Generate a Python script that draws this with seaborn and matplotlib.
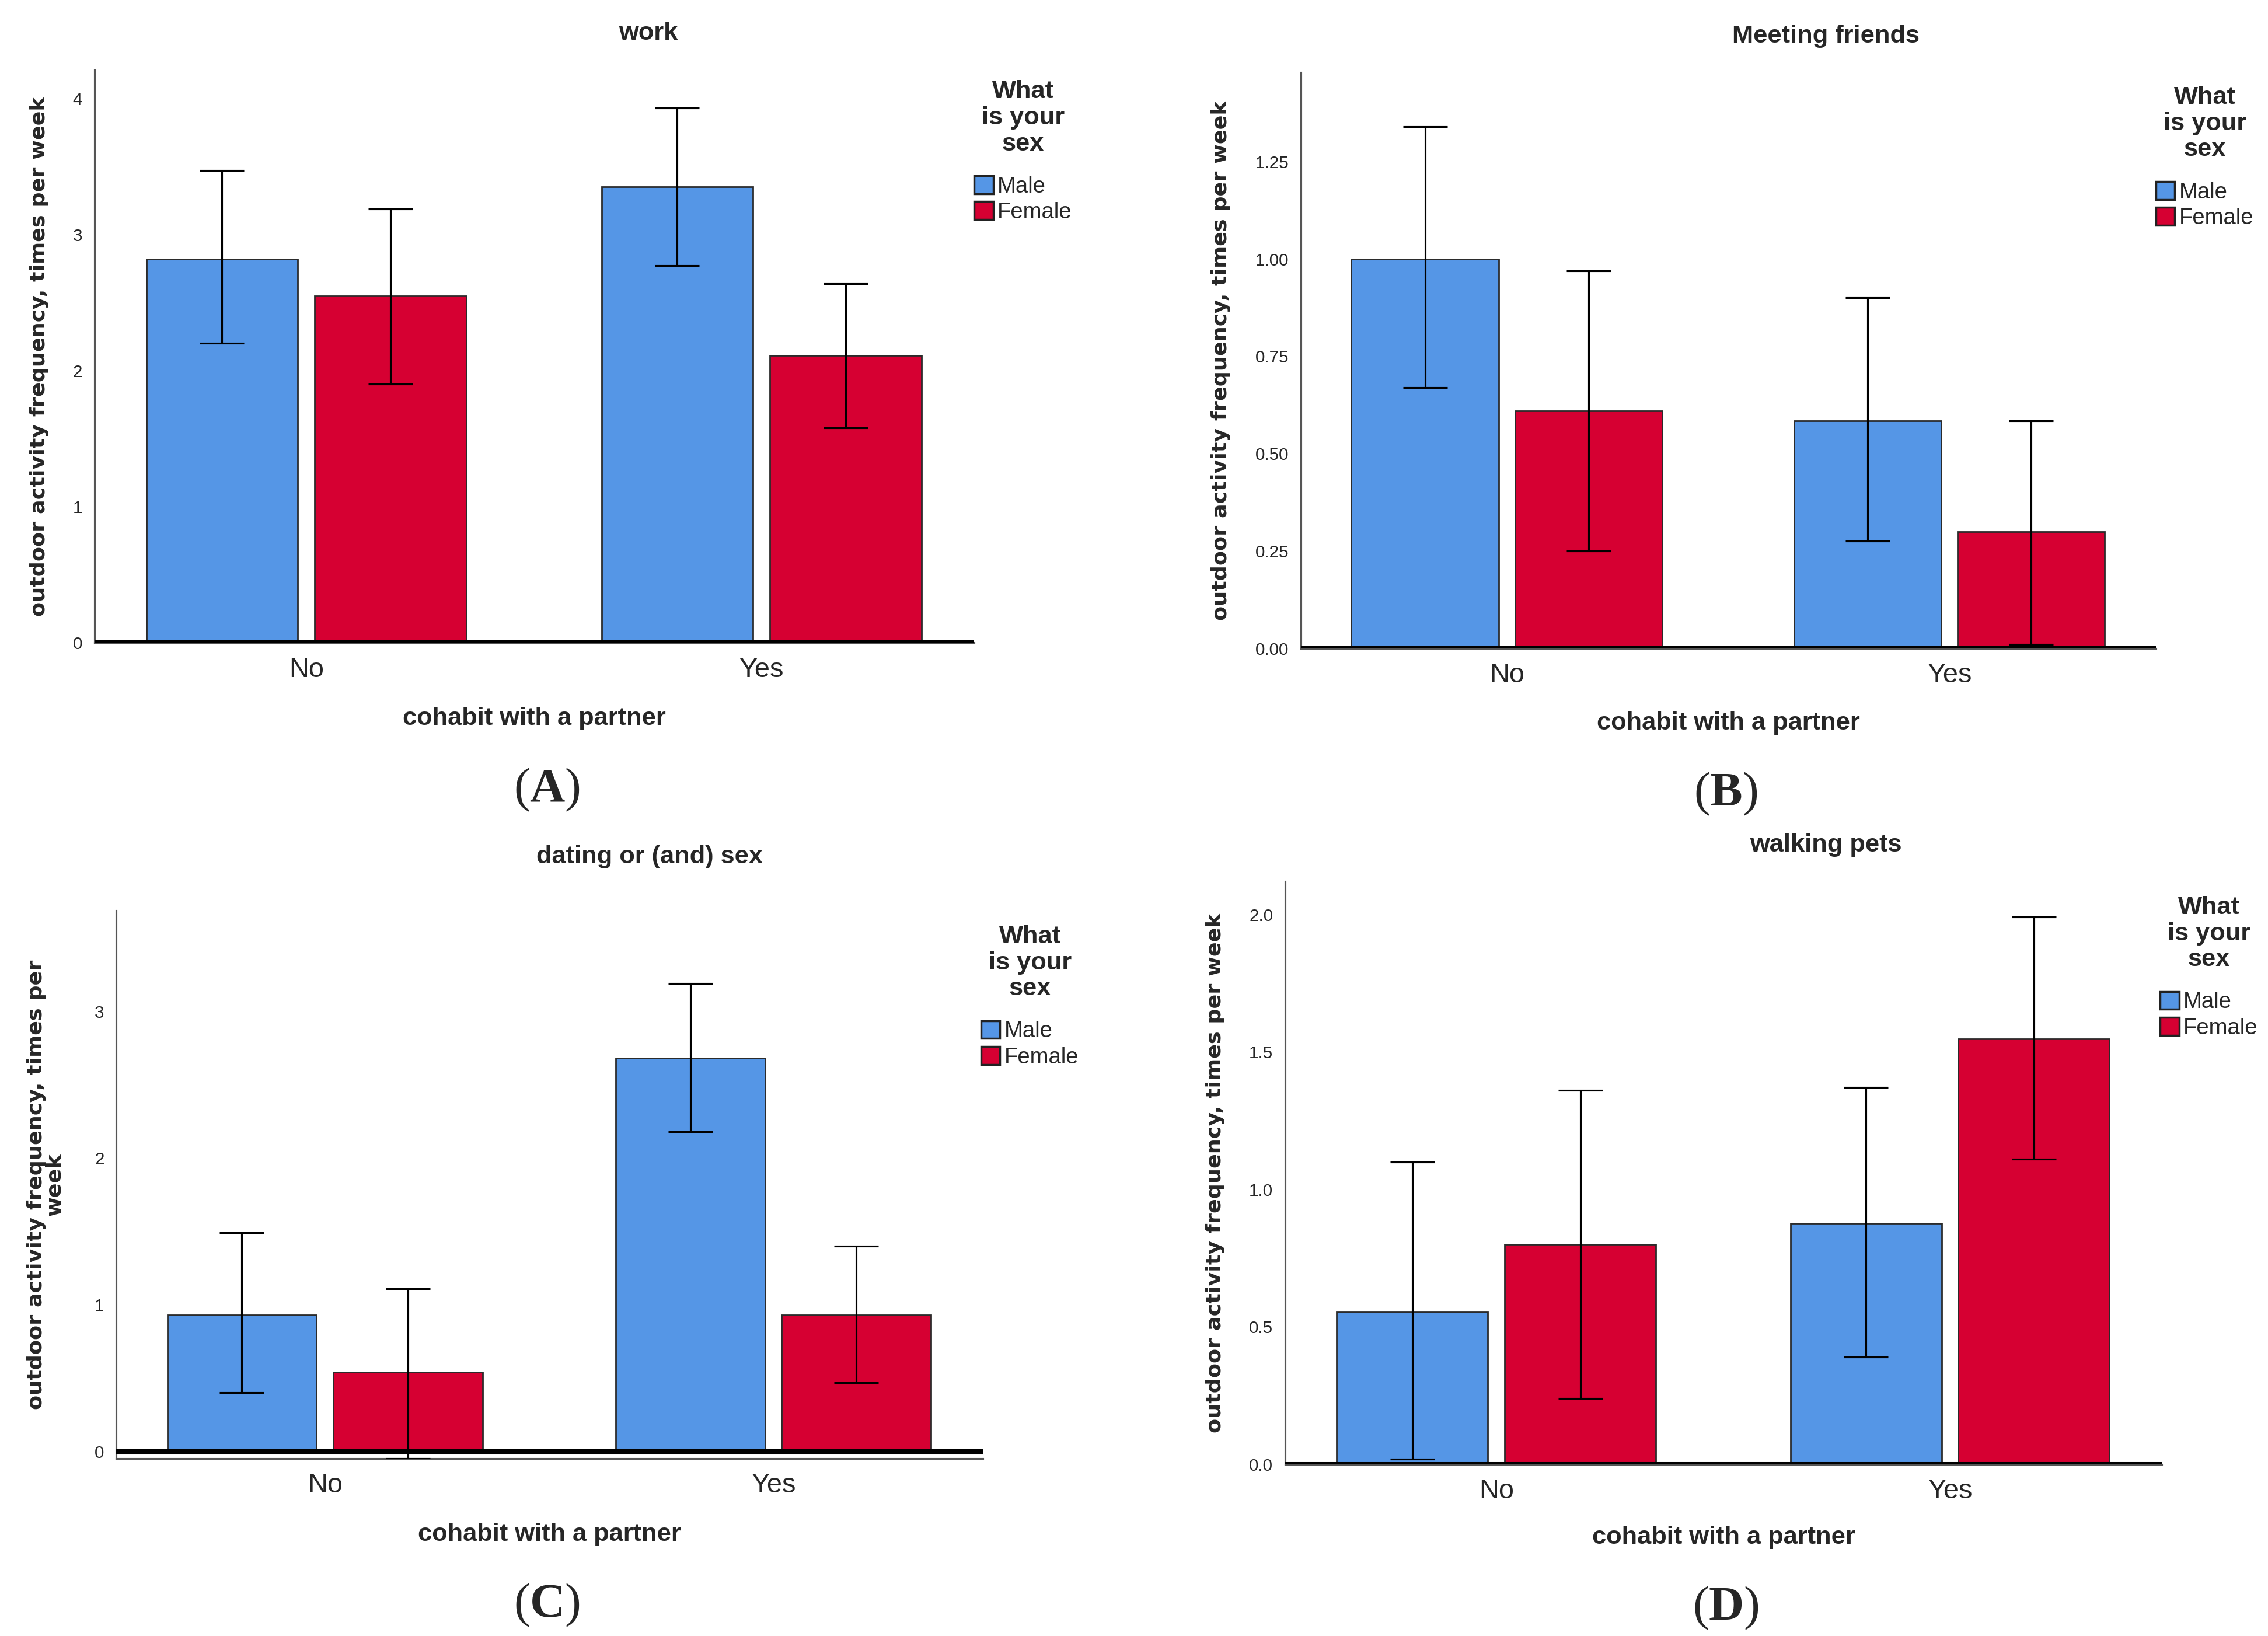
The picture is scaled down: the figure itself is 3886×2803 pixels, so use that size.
import matplotlib.pyplot as plt
import pandas as pd
import seaborn as sns
from matplotlib.ticker import FormatStrFormatter

# categories
groups = ["No", "Yes"]
sexes = ["Male", "Female"]
palette = {"Male": "#5596e6", "Female": "#d60032"}

# means, one value per cohabit group (No, Yes)
work_male = [2.82, 3.35]
work_female = [2.55, 2.11]
work_male_ci = [(2.20, 3.47), (2.77, 3.93)]
work_female_ci = [(1.90, 3.19), (1.58, 2.64)]

friends_male = [1.00, 0.585]
friends_female = [0.61, 0.30]
friends_male_ci = [(0.67, 1.34), (0.276, 0.90)]
friends_female_ci = [(0.25, 0.97), (0.01, 0.585)]

dating_male = [0.93, 2.68]
dating_female = [0.54, 0.93]
dating_male_ci = [(0.40, 1.49), (2.18, 3.19)]
dating_female_ci = [(-0.05, 1.11), (0.47, 1.40)]

pets_male = [0.554, 0.876]
pets_female = [0.80, 1.546]
pets_male_ci = [(0.02, 1.10), (0.39, 1.37)]
pets_female_ci = [(0.24, 1.36), (1.11, 1.99)]

sns.set_style("white")
plt.rcParams['font.family'] = ['Liberation Sans', 'DejaVu Sans']
plt.rcParams['mathtext.fontset'] = 'custom'
plt.rcParams['mathtext.rm'] = 'Liberation Serif'
plt.rcParams['mathtext.bf'] = 'Liberation Serif:bold'

NARROW = ['Liberation Sans Narrow', 'Liberation Sans', 'DejaVu Sans']
YLABEL = "outdoor activity frequency, times per week"


def draw_panel(fig, rect, title, title_xy, male, female, male_ci, female_ci,
               ylim, yticks, fmt, ylabel, ylabel_x, xlabel_y, legend_anchor,
               label, label_xy):
    ax = fig.add_axes(rect)
    df = pd.DataFrame({
        'cohabit': groups * 2,
        'sex': ['Male'] * len(groups) + ['Female'] * len(groups),
        'freq': male + female,
    })
    sns.barplot(data=df, x='cohabit', y='freq', hue='sex', order=groups,
                hue_order=sexes, palette=palette, saturation=1, width=0.74,
                gap=0.1, errorbar=None, edgecolor='#2b2b2b', linewidth=0.8,
                ax=ax, zorder=2)

    # confidence intervals at the bar centres
    for cont, means, ci in zip(ax.containers, [male, female], [male_ci, female_ci]):
        xs = [b.get_x() + b.get_width() / 2 for b in cont]
        lo = [m - c[0] for m, c in zip(means, ci)]
        hi = [c[1] - m for m, c in zip(means, ci)]
        ax.errorbar(xs, means, yerr=[lo, hi], fmt='none', ecolor='black',
                    elinewidth=0.9, capsize=11, capthick=0.9, zorder=3)

    ax.axhline(0, color='black', lw=2.6, zorder=4)
    ax.set_xlim(-0.465, 1.467)
    ax.set_ylim(*ylim)
    ax.set_yticks(yticks)
    ax.yaxis.set_major_formatter(FormatStrFormatter(fmt))
    ax.tick_params(axis='y', length=0, pad=6, labelsize=8.5)
    ax.tick_params(axis='x', length=0, pad=7, labelsize=13.5)
    for t in ax.get_yticklabels() + ax.get_xticklabels():
        t.set_family(NARROW)
    sns.despine(ax=ax)
    ax.spines['left'].set_color('#555555')
    ax.spines['left'].set_linewidth(0.9)
    ax.spines['bottom'].set_color('#555555')
    ax.spines['bottom'].set_linewidth(0.9)

    ax.set_ylabel(ylabel, family=['DejaVu Sans'], fontweight='bold',
                  fontsize=10.5, linespacing=0.9, va='center')
    ax.yaxis.set_label_coords(ylabel_x, 0.5)
    ax.set_xlabel("cohabit with a partner", fontweight='bold', fontsize=12.5)
    ax.xaxis.set_label_coords(0.5, xlabel_y)

    sns.move_legend(ax, 'upper left', bbox_to_anchor=legend_anchor,
                    title='What\nis your\nsex', frameon=False,
                    borderaxespad=0, borderpad=0, handlelength=0.85,
                    handleheight=0.85, handletextpad=0.2, labelspacing=0.2,
                    prop={'family': NARROW, 'size': 11},
                    title_fontproperties={'weight': 'bold', 'size': 12.5},
                    alignment='center')
    leg = ax.get_legend()
    leg.get_title().set_multialignment('center')
    leg.get_title().set_linespacing(1.15)
    leg._legend_box.sep = 10
    for h in leg.legend_handles:
        h.set_edgecolor('#222222')
        h.set_linewidth(1.0)

    fig.text(title_xy[0], title_xy[1], title, fontweight='bold',
             fontsize=12.5, ha='center', va='center')
    fig.text(label_xy[0], label_xy[1], r'($\mathbf{%s}$)' % label,
             family='Liberation Serif', fontsize=24, ha='center', va='center')
    return ax


fig = plt.figure(figsize=(3886 / 250, 2803 / 250), dpi=250)

draw_panel(fig, [0.0417, 0.6071, 0.3878, 0.3502], "work", (446 / 1560, 1 - 23 / 1125),
           work_male, work_female, work_male_ci, work_female_ci,
           (0, 4.21), [0, 1, 2, 3, 4], '%d', YLABEL, -0.063, -0.112,
           (1.0, 0.982), 'A', (376 / 1560, 1 - 543 / 1125))

draw_panel(fig, [0.5737, 0.6036, 0.3769, 0.3520], "Meeting friends", (1256 / 1560, 1 - 25 / 1125),
           friends_male, friends_female, friends_male_ci, friends_female_ci,
           (0, 1.478), [0, 0.25, 0.5, 0.75, 1.0, 1.25], '%.2f', YLABEL, -0.094, -0.109,
           (1.0, 0.977), 'B', (1187 / 1560, 1 - 546 / 1125))

draw_panel(fig, [0.0513, 0.1084, 0.3820, 0.3352], "dating or (and) sex", (447 / 1560, 1 - 589 / 1125),
           dating_male, dating_female, dating_male_ci, dating_female_ci,
           (-0.05, 3.69), [0, 1, 2, 3], '%d', "outdoor activity frequency, times per\nweek",
           -0.082, -0.117, (0.998, 0.973), 'C', (376 / 1560, 1 - 1104 / 1125))

draw_panel(fig, [0.5667, 0.1049, 0.3865, 0.3564], "walking pets", (1256 / 1560, 1 - 581 / 1125),
           pets_male, pets_female, pets_male_ci, pets_female_ci,
           (0, 2.12), [0, 0.5, 1.0, 1.5, 2.0], '%.1f', YLABEL, -0.08, -0.105,
           (0.998, 0.975), 'D', (1187 / 1560, 1 - 1106 / 1125))

fig.savefig("out.png", dpi=250, facecolor='white')
